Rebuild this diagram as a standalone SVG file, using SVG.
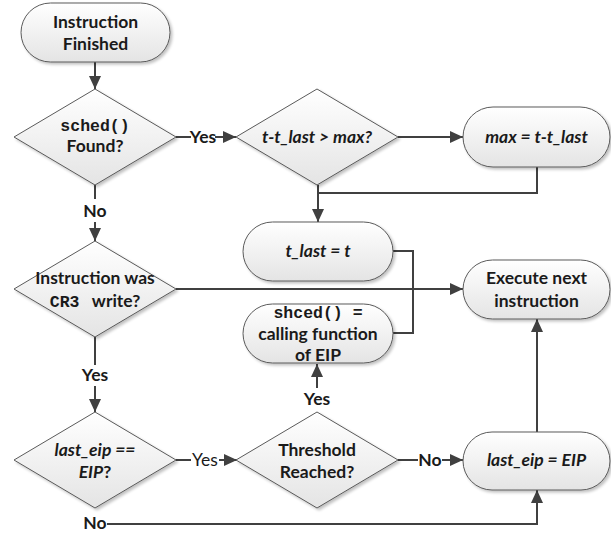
<svg xmlns="http://www.w3.org/2000/svg" width="611" height="533" viewBox="0 0 611 533">
  <defs>
    <linearGradient id="shade" x1="0" y1="0" x2="0" y2="1">
      <stop offset="0" stop-color="#ffffff"/>
      <stop offset="1" stop-color="#e4e4e4"/>
    </linearGradient>
    <filter id="drop" x="-10%" y="-10%" width="125%" height="130%">
      <feGaussianBlur in="SourceAlpha" stdDeviation="1.5"/>
      <feOffset dx="1.5" dy="2" result="b"/>
      <feComponentTransfer><feFuncA type="linear" slope="0.25"/></feComponentTransfer>
      <feMerge><feMergeNode/><feMergeNode in="SourceGraphic"/></feMerge>
    </filter>
    <marker id="arrow" markerUnits="userSpaceOnUse" markerWidth="13" markerHeight="12" refX="13" refY="6" orient="auto">
      <path d="M0,0 L13,6 L0,12 z" fill="#404040"/>
    </marker>
    <style>
      .shape { fill: url(#shade); stroke: #5a5a5a; stroke-width: 1; filter: url(#drop); }
      .wire { fill: none; stroke: #404040; stroke-width: 2; }
      .arr { marker-end: url(#arrow); }
      text { font-family: "Lato", "Open Sans", "Liberation Sans", sans-serif; font-size: 17.5px; font-weight: bold; fill: #1a1a1a; text-anchor: middle; white-space: pre; }
      .it { font-style: italic; }
      .mono { font-family: "Liberation Mono", "DejaVu Sans Mono", monospace; font-size: 16.5px; }
      .thin { font-weight: normal; }
    </style>
  </defs>

  <!-- connectors -->
  <g id="connectors">
    <path class="wire arr" d="M95,62 V89"/>
    <path class="wire" d="M176,137 H191"/>
    <path class="wire arr" d="M215,137 H236"/>
    <path class="wire arr" d="M398,137 H463"/>
    <path class="wire" d="M537,167 V193 H318"/>
    <path class="wire arr" d="M318,185 V222"/>
    <path class="wire" d="M95,185 V199"/>
    <path class="wire arr" d="M95,222 V241"/>
    <path class="wire arr" d="M176,289 H463"/>
    <path class="wire" d="M393,251 H413 V333 H393"/>
    <path class="wire" d="M95,337 V365"/>
    <path class="wire arr" d="M95,386 V412"/>
    <path class="wire" d="M176,460 H191"/>
    <path class="wire arr" d="M219,460 H237"/>
    <path class="wire arr" d="M317,388 V364"/>
    <path class="wire" d="M398,460 H418"/>
    <path class="wire arr" d="M442,460 H463"/>
    <path class="wire arr" d="M537,432 V319"/>
    <path class="wire arr" d="M107,524 H537 V490"/>
  </g>

  <!-- edge labels -->
  <g id="edge-labels">
    <text x="203" y="143">Yes</text>
    <text x="95" y="217">No</text>
    <text x="95" y="381">Yes</text>
    <text class="thin" x="205" y="466">Yes</text>
    <text x="317" y="405">Yes</text>
    <text x="430" y="466">No</text>
    <text x="95" y="529">No</text>
  </g>

  <g id="n-start">
    <rect class="shape" x="21" y="3" width="149" height="59" rx="29.5"/>
    <text x="95.5" y="28">Instruction</text>
    <text x="95.5" y="50">Finished</text>
  </g>

  <g id="n-sched-found">
    <polygon class="shape" points="95,89 176,137 95,185 14,137"/>
    <text class="mono" x="95" y="131">sched()</text>
    <text x="95" y="152">Found?</text>
  </g>

  <g id="n-gap-check">
    <polygon class="shape" points="317,89 398,137 317,185 236,137"/>
    <text class="it" x="317" y="143">t-t_last &gt; max?</text>
  </g>

  <g id="n-set-max">
    <rect class="shape" x="463" y="107" width="147" height="60" rx="30"/>
    <text class="it" x="536.5" y="143">max = t-t_last</text>
  </g>

  <g id="n-set-tlast">
    <rect class="shape" x="243" y="222" width="150" height="59" rx="29.5"/>
    <text class="it" x="318" y="257">t_last = t</text>
  </g>

  <g id="n-cr3-write">
    <polygon class="shape" points="95,241 176,289 95,337 14,289"/>
    <text x="95" y="284">Instruction was</text>
    <text x="95" y="307"><tspan class="mono">CR3</tspan>   write?</text>
  </g>

  <g id="n-execute-next">
    <rect class="shape" x="463" y="260" width="147" height="59" rx="29.5"/>
    <text x="536.5" y="284">Execute next</text>
    <text x="536.5" y="307">instruction</text>
  </g>

  <g id="n-shced">
    <rect class="shape" x="243" y="304" width="150" height="59" rx="29.5"/>
    <text class="mono" x="318" y="318">shced() =</text>
    <text x="318" y="340">calling function</text>
    <text x="318" y="361">of EIP</text>
  </g>

  <g id="n-eip-match">
    <polygon class="shape" points="95,412 176,460 95,508 14,460"/>
    <text class="it" x="95" y="456">last_eip ==</text>
    <text x="95" y="478"><tspan class="it">EIP</tspan>?</text>
  </g>

  <g id="n-threshold">
    <polygon class="shape" points="317,412 398,460 317,508 236,460"/>
    <text x="317" y="456">Threshold</text>
    <text x="317" y="478">Reached?</text>
  </g>

  <g id="n-set-eip">
    <rect class="shape" x="463" y="432" width="147" height="58" rx="29"/>
    <text class="it" x="536.5" y="466">last_eip = EIP</text>
  </g>
</svg>
